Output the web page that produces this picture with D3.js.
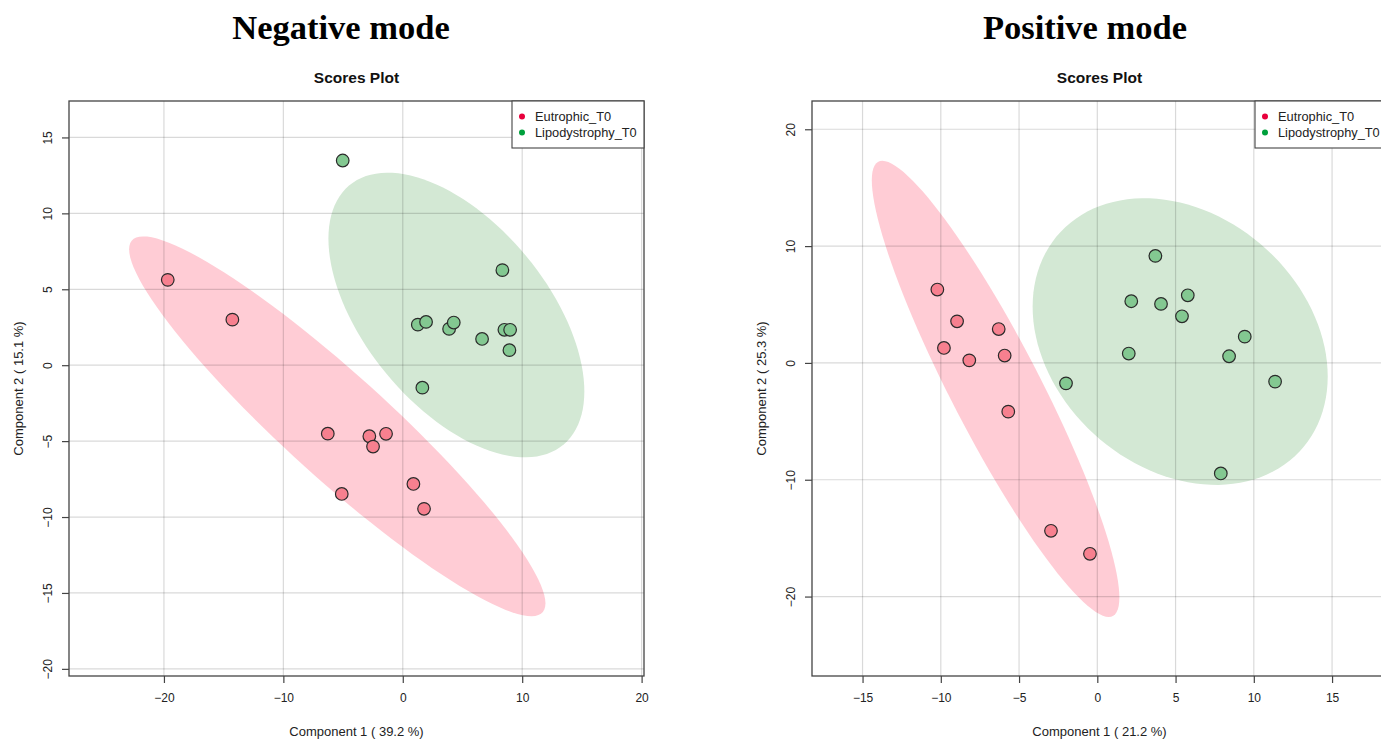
<!DOCTYPE html>
<html>
<head>
<meta charset="utf-8">
<script src="https://cdn.jsdelivr.net/npm/d3@7/dist/d3.min.js"></script>
<style>
  html, body { margin: 0; padding: 0; background: #fff; }
  svg { display: block; }
  text { font-family: "Liberation Sans", Arial, sans-serif; }
</style>
</head>
<body>
<svg id="chart" width="1381" height="739"></svg>
<script>
// ---- Data: PLS-DA component scores ----
const groups = ["Eutrophic_T0", "Lipodystrophy_T0"];

// Negative mode
const negEutroX = [-19.68, -14.27, -6.28, -2.80, -1.40, -2.49, -5.11, 0.89, 1.78];
const negEutroY = [5.62, 3.00, -4.51, -4.68, -4.52, -5.36, -8.48, -7.82, -9.46];
const negLipoX = [-5.03, 8.34, 1.26, 1.95, 3.88, 4.27, 6.64, 8.51, 8.99, 8.93, 1.64];
const negLipoY = [13.48, 6.26, 2.67, 2.85, 2.39, 2.81, 1.73, 2.33, 2.33, 0.99, -1.48];
const negXTicks = [-20, -10, 0, 10, 20];
const negYTicks = [-20, -15, -10, -5, 0, 5, 10, 15];
const negXLim = [-27.95, 20.2];
const negYLim = [-20.47, 17.4];
const negXLabel = "Component 1 ( 39.2 %)";
const negYLabel = "Component 2 ( 15.1 %)";

// Positive mode
const posEutroX = [-10.22, -8.96, -6.30, -9.80, -8.18, -5.92, -5.69, -2.96, -0.47];
const posEutroY = [6.28, 3.56, 2.90, 1.28, 0.22, 0.63, -4.17, -14.37, -16.34];
const posLipoX = [3.71, 2.17, 4.07, 5.78, 5.41, 9.42, 8.42, 2.01, -2.00, 11.36, 7.89];
const posLipoY = [9.16, 5.28, 5.05, 5.79, 3.99, 2.25, 0.57, 0.80, -1.75, -1.60, -9.46];
const posXTicks = [-15, -10, -5, 0, 5, 10, 15];
const posYTicks = [-20, -10, 0, 10, 20];
const posXLim = [-18.23, 18.51];
const posYLim = [-26.8, 22.42];
const posXLabel = "Component 1 ( 21.2 %)";
const posYLabel = "Component 2 ( 25.3 %)";

// ---- Styling ----
const keyColors = ["#E8003C", "#00A03C"];
const pointFill = ["#F7808F", "#83C891"];
const ellipseFill = ["#FFCCD5", "#D3E8D4"];
const gridColor = "rgba(0,0,0,0.15)";

const svg = d3.select("#chart");

// 95% confidence ellipse from sample covariance (chi-square, 2 df)
function confidenceEllipse(xs, ys, level = 0.95, n = 120) {
  const m = xs.length;
  const mx = d3.mean(xs), my = d3.mean(ys);
  let sxx = 0, syy = 0, sxy = 0;
  for (let i = 0; i < m; i++) {
    const dx = xs[i] - mx, dy = ys[i] - my;
    sxx += dx * dx; syy += dy * dy; sxy += dx * dy;
  }
  sxx /= (m - 1); syy /= (m - 1); sxy /= (m - 1);
  const t = Math.sqrt(-2 * Math.log(1 - level));
  // Cholesky factor of the covariance
  const l11 = Math.sqrt(sxx);
  const l21 = sxy / l11;
  const l22 = Math.sqrt(syy - l21 * l21);
  const pts = [];
  for (let k = 0; k < n; k++) {
    const a = 2 * Math.PI * k / n;
    const c = Math.cos(a), s = Math.sin(a);
    pts.push([mx + t * l11 * c, my + t * (l21 * c + l22 * s)]);
  }
  return pts;
}

function panel(cfg) {
  const { left, right, top, bottom, title, heading } = cfg;
  const cx = (left + right) / 2;
  const x = d3.scaleLinear().domain(cfg.xLim).range([left, right]);
  const y = d3.scaleLinear().domain(cfg.yLim).range([bottom, top]);

  // Big heading
  svg.append("text")
    .attr("x", cfg.headingX).attr("y", 39)
    .attr("text-anchor", "middle")
    .style("font-family", "'Liberation Serif', 'Times New Roman', serif")
    .style("font-weight", "bold").style("font-size", "34.5px")
    .attr("fill", "#000")
    .text(heading);

  svg.append("text")
    .attr("x", cx).attr("y", 83)
    .attr("text-anchor", "middle")
    .style("font-weight", "bold").style("font-size", "15.5px")
    .attr("fill", "#111")
    .text(title);

  const g = svg.append("g");
  const clipId = "clip-" + cfg.id;
  svg.append("clipPath").attr("id", clipId)
    .append("rect").attr("x", left).attr("y", top)
    .attr("width", right - left).attr("height", bottom - top);
  const inner = g.append("g").attr("clip-path", `url(#${clipId})`);

  // Group ellipses
  const line = d3.line().x(d => x(d[0])).y(d => y(d[1])).curve(d3.curveLinearClosed);
  cfg.series.forEach((s, i) => {
    inner.append("path")
      .datum(confidenceEllipse(s.xs, s.ys))
      .attr("d", line)
      .attr("fill", ellipseFill[i])
      .attr("stroke", "none");
  });

  // Grid
  inner.selectAll(".gx").data(cfg.xTicks).join("line")
    .attr("x1", d => x(d)).attr("x2", d => x(d))
    .attr("y1", top).attr("y2", bottom)
    .attr("stroke", gridColor).attr("stroke-width", 1.2);
  inner.selectAll(".gy").data(cfg.yTicks).join("line")
    .attr("y1", d => y(d)).attr("y2", d => y(d))
    .attr("x1", left).attr("x2", right)
    .attr("stroke", gridColor).attr("stroke-width", 1.2);

  // Points
  cfg.series.forEach((s, i) => {
    inner.selectAll(null).data(s.xs.map((v, k) => [v, s.ys[k]])).join("circle")
      .attr("cx", d => x(d[0])).attr("cy", d => y(d[1]))
      .attr("r", 6.3)
      .attr("fill", pointFill[i])
      .attr("stroke", "#2a2a2a").attr("stroke-width", 1.2);
  });

  // Frame
  g.append("rect")
    .attr("x", left).attr("y", top)
    .attr("width", right - left).attr("height", bottom - top)
    .attr("fill", "none").attr("stroke", "#444").attr("stroke-width", 1.3);

  // X axis
  const xa = g.append("g").attr("transform", `translate(0,${bottom})`)
    .call(d3.axisBottom(x).tickValues(cfg.xTicks).tickSize(7).tickPadding(10).tickSizeOuter(0));
  xa.select(".domain").remove();
  xa.selectAll("line").attr("stroke", "#444").attr("stroke-width", 1.2);
  xa.selectAll("text").style("font-size", "12px").attr("fill", "#222")
    .style("font-family", "'Liberation Sans', Arial, sans-serif");

  // Y axis with rotated labels
  const ya = g.append("g").attr("transform", `translate(${left},0)`)
    .call(d3.axisLeft(y).tickValues(cfg.yTicks).tickSize(7).tickPadding(0).tickSizeOuter(0));
  ya.select(".domain").remove();
  ya.selectAll("line").attr("stroke", "#444").attr("stroke-width", 1.2);
  ya.selectAll("text")
    .attr("x", null).attr("dy", null)
    .attr("transform", "translate(-21,0) rotate(-90)")
    .attr("text-anchor", "middle").attr("dominant-baseline", "central")
    .style("font-size", "12px").attr("fill", "#222")
    .style("font-family", "'Liberation Sans', Arial, sans-serif");

  // Axis titles
  svg.append("text")
    .attr("x", cx).attr("y", bottom + 60)
    .attr("text-anchor", "middle").style("font-size", "13px").attr("fill", "#222")
    .text(cfg.xLabel);
  svg.append("text")
    .attr("transform", `translate(${left - 51},${(top + bottom) / 2}) rotate(-90)`)
    .attr("text-anchor", "middle").attr("dominant-baseline", "central")
    .style("font-size", "13px").attr("fill", "#222")
    .text(cfg.yLabel);

  // Legend
  const lg = svg.append("g").attr("transform", `translate(${right - 132},${top})`);
  lg.append("rect").attr("x", 0).attr("y", 0).attr("width", 132).attr("height", 47)
    .attr("fill", "#fff").attr("stroke", "#444").attr("stroke-width", 1.1);
  groups.forEach((name, i) => {
    lg.append("circle").attr("cx", 10).attr("cy", 15.5 + i * 16).attr("r", 3)
      .attr("fill", keyColors[i]);
    lg.append("text").attr("x", 23).attr("y", 15.5 + i * 16)
      .attr("dominant-baseline", "central")
      .style("font-size", "12.8px").attr("fill", "#222")
      .text(name);
  });
}

panel({
  id: "neg", left: 69, right: 644, top: 101, bottom: 676,
  heading: "Negative mode", headingX: 341, title: "Scores Plot",
  xLim: negXLim, yLim: negYLim, xTicks: negXTicks, yTicks: negYTicks,
  xLabel: negXLabel, yLabel: negYLabel,
  series: [{ xs: negEutroX, ys: negEutroY }, { xs: negLipoX, ys: negLipoY }]
});

panel({
  id: "pos", left: 812, right: 1387, top: 101, bottom: 676,
  heading: "Positive mode", headingX: 1085, title: "Scores Plot",
  xLim: posXLim, yLim: posYLim, xTicks: posXTicks, yTicks: posYTicks,
  xLabel: posXLabel, yLabel: posYLabel,
  series: [{ xs: posEutroX, ys: posEutroY }, { xs: posLipoX, ys: posLipoY }]
});
</script>
</body>
</html>
